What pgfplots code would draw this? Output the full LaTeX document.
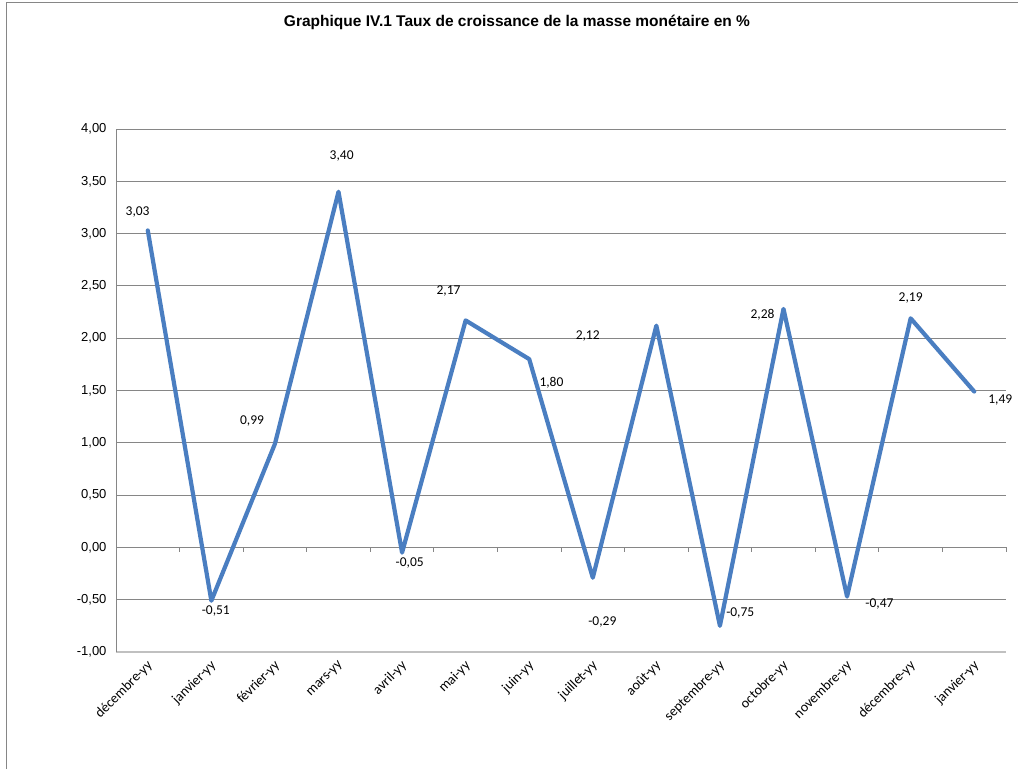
\documentclass[border=0pt]{standalone}
\usepackage{pgfplots}
\pgfplotsset{compat=1.18}
\usepackage{fontspec}
\setmainfont{Liberation Sans}
\newfontfamily\calibri{Carlito}
\definecolor{serie}{RGB}{74,126,193}
\definecolor{grille}{RGB}{134,134,134}
\definecolor{axe}{RGB}{192,192,192}

\begin{document}
\begin{tikzpicture}[x=1pt,y=1pt]
\useasboundingbox (0,0) rectangle (1018,769);
\draw[grille, line width=1pt] (6,0) -- (6,766) -- (1018,766);
\node[font=\bfseries\fontsize{15.5}{18}\selectfont] at (517,747) {Graphique IV.1 Taux de croissance de la masse monétaire en \%};
\begin{axis}[
    at={(116pt,117pt)}, anchor=south west,
    scale only axis, width=890pt, height=523pt,
    xmin=-0.5, xmax=13.5,
    ymin=-1, ymax=4,
    ytick={-1,-0.5,...,4},
    xtick={0,...,13},
    xticklabels={décembre-yy,janvier-yy,février-yy,mars-yy,avril-yy,mai-yy,juin-yy,juillet-yy,août-yy,septembre-yy,octobre-yy,novembre-yy,décembre-yy,janvier-yy},
    xticklabel style={font=\calibri\fontsize{14}{16}\selectfont, xshift=5pt, yshift=-9pt, rotate=45, anchor=east},
    yticklabel style={font=\fontsize{13}{15}\selectfont, xshift=-6pt},
    major tick length=0pt,
    axis lines*=left,
    x axis line style={axe, line width=1.6pt},
    y axis line style={grille, line width=1pt},
    ymajorgrids,
    grid style={grille, line width=0.8pt},
    /pgf/number format/.cd, fixed, fixed zerofill, precision=2, use comma, assume math mode=true,
    /pgfplots/.cd,
    clip=false,
]
% axe des categories a zero
\draw[grille, line width=1pt] (axis cs:-0.5,0) -- (axis cs:13.5,0);
\pgfplotsinvokeforeach{0.5,1.5,2.5,3.5,4.5,5.5,6.5,7.5,8.5,9.5,10.5,11.5,12.5,13.5}{
  \draw[grille, line width=1pt] (axis cs:#1,0) -- ++(0pt,-5pt);
}

\addplot[serie, line width=4.2pt, line join=round, line cap=round] coordinates {
    (0, 3.03)
    (1, -0.51)
    (2, 0.99)
    (3, 3.40)
    (4, -0.05)
    (5, 2.17)
    (6, 1.80)
    (7, -0.29)
    (8, 2.12)
    (9, -0.75)
    (10, 2.28)
    (11, -0.47)
    (12, 2.19)
    (13, 1.49)
};

% etiquettes de donnees
\begin{scope}[every node/.style={font=\calibri\fontsize{13.5}{15}\selectfont}]
\node at (axis cs:-0.16,3.21) {3,03};
\node at (axis cs:1.07,-0.61) {-0,51};
\node at (axis cs:1.64,1.21) {0,99};
\node at (axis cs:3.05,3.74) {3,40};
\node at (axis cs:4.12,-0.15) {-0,05};
\node at (axis cs:4.73,2.45) {2,17};
\node at (axis cs:6.35,1.57) {1,80};
\node at (axis cs:6.92,2.02) {2,12};
\node at (axis cs:7.15,-0.71) {-0,29};
\node at (axis cs:9.32,-0.63) {-0,75};
\node at (axis cs:9.67,2.22) {2,28};
\node at (axis cs:11.51,-0.54) {-0,47};
\node at (axis cs:12.0,2.38) {2,19};
\node at (axis cs:13.41,1.41) {1,49};
\end{scope}
\end{axis}
\end{tikzpicture}
\end{document}
